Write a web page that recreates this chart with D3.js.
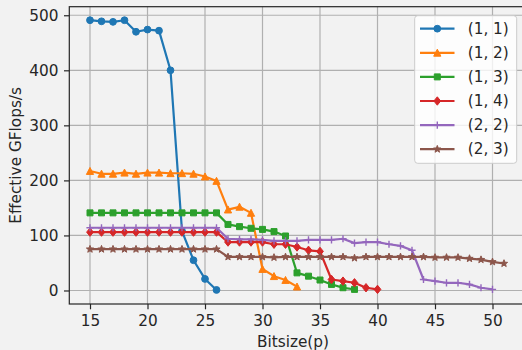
<!DOCTYPE html>
<html><head><meta charset="utf-8">
<script src="https://cdn.jsdelivr.net/npm/d3@7"></script>
<style>
html,body{margin:0;padding:0;background:#f2f2f2;}
svg{display:block;font-family:"DejaVu Sans",sans-serif;}
</style></head>
<body>
<svg id="c" width="522" height="350"></svg>
<script>
const seriesNames = ["(1, 1)", "(1, 2)", "(1, 3)", "(1, 4)", "(2, 2)", "(2, 3)"];
const startX = 15;
const s11 = [491, 489, 488, 491, 470, 474, 472, 400, 108, 55, 21, 1];
const s12 = [217, 212, 212, 214, 212, 214, 214, 213, 213, 212, 207, 199, 147, 152, 141, 39, 26, 19, 7];
const s13 = [141, 141, 141, 141, 141, 141, 141, 141, 141, 141, 141, 141, 120, 116, 113, 111, 107, 99, 32, 26, 19, 11, 5, 2];
const s14 = [106, 106, 106, 106, 106, 106, 106, 106, 106, 106, 106, 106, 88, 88, 88, 88, 84, 84, 79, 73, 71, 20, 17, 14, 5, 2];
const s22 = [114, 114, 114, 114, 114, 114, 114, 114, 114, 114, 114, 114, 94, 93, 93, 92, 90, 90, 90, 92, 92, 92, 94, 86, 88, 88, 84, 81, 73, 20, 17, 14, 14, 11, 5, 2];
const s23 = [75, 75, 75, 75, 75, 75, 75, 75, 75, 75, 75, 75, 61, 61, 61, 61, 60, 61, 61, 61, 61, 61, 61, 59, 61, 61, 61, 61, 61, 61, 60, 60, 60, 58, 56, 52, 49];
const xTicks = [15, 20, 25, 30, 35, 40, 45, 50];
const yTicks = [0, 100, 200, 300, 400, 500];
const colors = ["#1f77b4", "#ff7f0e", "#2ca02c", "#d62728", "#9467bd", "#8c564b"];
const markers = ["circle", "triangle", "square", "diamond", "plus", "star"];
const allSeries = [s11, s12, s13, s14, s22, s23];

const svg = d3.select("#c");
const L = 69.3, R = 524.7, T = 6.7, B = 304;
const x = d3.scaleLinear().domain([13.2, 52.8]).range([L, R]);
const y = d3.scaleLinear().domain([-24.55, 515.55]).range([B, T]);
const fs = 15.3;

// grid
const g = svg.append("g");
g.selectAll(".gx").data(xTicks).enter().append("line")
  .attr("x1", d => x(d)).attr("x2", d => x(d)).attr("y1", T).attr("y2", B)
  .attr("stroke", "#b0b0b0").attr("stroke-width", 1.2);
g.selectAll(".gy").data(yTicks).enter().append("line")
  .attr("y1", d => y(d)).attr("y2", d => y(d)).attr("x1", L).attr("x2", R)
  .attr("stroke", "#b0b0b0").attr("stroke-width", 1.2);

function markerPath(type) {
  switch (type) {
    case "circle": return d3.symbol().type(d3.symbolCircle).size(Math.PI * 3.4 * 3.4)();
    case "triangle": return "M0,-3.6L3.6,3.4L-3.6,3.4Z";
    case "square": return "M-3,-3L3,-3L3,3L-3,3Z";
    case "diamond": return "M0,-4.2L3.4,0L0,4.2L-3.4,0Z";
    case "plus": return "M-3.6,0L3.6,0M0,-3.6L0,3.6";
    case "star": {
      let p = "";
      for (let i = 0; i < 10; i++) {
        const r = i % 2 === 0 ? 3.8 : 1.6;
        const a = -Math.PI / 2 + i * Math.PI / 5;
        p += (i === 0 ? "M" : "L") + (r * Math.cos(a)).toFixed(2) + "," + (r * Math.sin(a)).toFixed(2);
      }
      return p + "Z";
    }
  }
}

const line = d3.line().x(d => x(d[0])).y(d => y(d[1]));
allSeries.forEach((vals, i) => {
  const pts = vals.map((v, k) => [startX + k, v]);
  const sg = svg.append("g");
  sg.append("path").datum(pts).attr("d", line).attr("fill", "none")
    .attr("stroke", colors[i]).attr("stroke-width", 2.2).attr("stroke-linejoin", "round");
  const mp = markerPath(markers[i]);
  sg.selectAll(".m").data(pts).enter().append("path")
    .attr("transform", d => `translate(${x(d[0])},${y(d[1])})`)
    .attr("d", mp)
    .attr("fill", markers[i] === "plus" ? "none" : colors[i])
    .attr("stroke", colors[i]).attr("stroke-width", markers[i] === "plus" ? 1.4 : 1);
});

// spines
svg.append("rect").attr("x", L).attr("y", T).attr("width", R - L).attr("height", B - T)
  .attr("fill", "none").attr("stroke", "#262626").attr("stroke-width", 1.2);

// axes
const xAxis = svg.append("g").attr("transform", `translate(0,${B})`)
  .call(d3.axisBottom(x).tickValues(xTicks).tickSize(5.3).tickPadding(5.5).tickFormat(d3.format("d")));
const yAxis = svg.append("g").attr("transform", `translate(${L},0)`)
  .call(d3.axisLeft(y).tickValues(yTicks).tickSize(5.3).tickPadding(5.5).tickFormat(d3.format("d")));
[xAxis, yAxis].forEach(a => {
  a.select(".domain").remove();
  a.selectAll(".tick line").attr("stroke", "#262626").attr("stroke-width", 1.2);
  a.selectAll(".tick text").attr("fill", "#262626").style("font-size", fs + "px")
    .style("font-family", "DejaVu Sans");
});

svg.append("text").attr("x", (L + R) / 2 - 4).attr("y", 346.5).attr("text-anchor", "middle")
  .style("font-size", fs + "px").attr("fill", "#262626").text("Bitsize(p)");
svg.append("text").attr("transform", `translate(20.5,${(T + B) / 2}) rotate(-90)`)
  .attr("text-anchor", "middle").style("font-size", fs + "px").attr("fill", "#262626")
  .text("Effective GFlops/s");

// legend
const lg = svg.append("g");
lg.append("rect").attr("x", 414.7).attr("y", 15.7).attr("width", 102).attr("height", 147.6)
  .attr("rx", 3).attr("fill", "#ffffff").attr("fill-opacity", 0.8)
  .attr("stroke", "#cccccc").attr("stroke-width", 1);
seriesNames.forEach((name, i) => {
  const ry = 28.7 + i * 24.1;
  lg.append("line").attr("x1", 420).attr("x2", 454.5).attr("y1", ry).attr("y2", ry)
    .attr("stroke", colors[i]).attr("stroke-width", 2.2);
  lg.append("path").attr("transform", `translate(437.3,${ry})`).attr("d", markerPath(markers[i]))
    .attr("fill", markers[i] === "plus" ? "none" : colors[i])
    .attr("stroke", colors[i]).attr("stroke-width", markers[i] === "plus" ? 1.4 : 1);
  lg.append("text").attr("x", 467.7).attr("y", ry + 4.8).style("font-size", fs + "px")
    .attr("fill", "#262626").text(name);
});
</script>
</body></html>
